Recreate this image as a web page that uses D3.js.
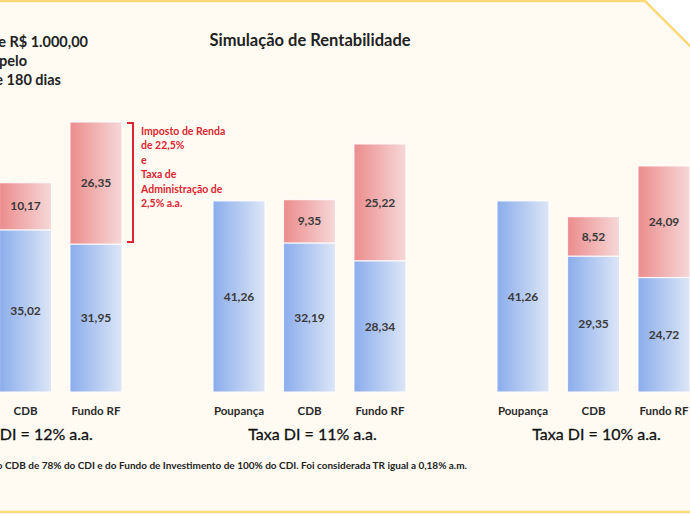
<!DOCTYPE html>
<html>
<head>
<meta charset="utf-8">
<script src="https://cdn.jsdelivr.net/npm/d3@7"></script>
<style>
  html, body { margin: 0; padding: 0; background: #ffffff; }
  svg { display: block; }
  text { font-family: Lato, "Open Sans", sans-serif; }
</style>
</head>
<body>
<svg id="chart" width="690" height="514"></svg>
<script>
// ---------- data ----------
const groups = ["Taxa DI = 12% a.a.", "Taxa DI = 11% a.a.", "Taxa DI = 10% a.a."];
const products = ["Poupança", "CDB", "Fundo RF"];
// net return (blue part)
const netReturn = [
  [41.26, 35.02, 31.95],
  [41.26, 32.19, 28.34],
  [41.26, 29.35, 24.72]
];
// income tax + admin fee (red part)
const deductions = [
  [0, 10.17, 26.35],
  [0, 9.35, 25.22],
  [0, 8.52, 24.09]
];
const titleText = "Simulação de Rentabilidade";
const introLines = ["Aplicação de R$ 1.000,00", "Rendimento pelo", "prazo de 180 dias"];
const noteLines = ["Imposto de Renda", "de 22,5%", "e", "Taxa de", "Administração de", "2,5% a.a."];
const footnote = "* Rentabilidade do CDB de 78% do CDI e do Fundo de Investimento de 100% do CDI. Foi considerada TR igual a 0,18% a.m.";

const fmt = v => v.toFixed(2).replace(".", ",");

// ---------- layout ----------
const svg = d3.select("#chart");
const baseY = 392;

// background panel with cut corner
svg.append("path")
  .attr("d", `M-10,1 L645,1 L700,56 L700,512 L-10,512 Z`)
  .attr("fill", "#fffbf3")
  .attr("stroke", "#fdd978")
  .attr("stroke-width", 2.5);

const defs = svg.append("defs");
function grad(id, c1, c2) {
  const g = defs.append("linearGradient").attr("id", id)
    .attr("x1", "0%").attr("x2", "100%").attr("y1", "0%").attr("y2", "0%");
  g.append("stop").attr("offset", "0%").attr("stop-color", c1);
  g.append("stop").attr("offset", "100%").attr("stop-color", c2);
}
grad("gBlue", "#8badec", "#dde6f6");
grad("gRed", "#ec8c8d", "#f6d8d8");

const x0 = d3.scaleBand().domain(groups).range([-71, -71 + 284 * 3]).paddingInner(0).paddingOuter(0);
const x1 = d3.scaleBand().domain(products).range([0, 193]).paddingInner(0.262).paddingOuter(0);
const y = d3.scaleLinear().domain([0, 60]).range([baseY, baseY - 60 * 4.631]);

const rows = [];
groups.forEach((g, gi) => products.forEach((p, pi) => {
  rows.push({ g, p, net: netReturn[gi][pi], ded: deductions[gi][pi] });
}));

const bars = svg.append("g");
const bx = d => x0(d.g) + x1(d.p);
bars.selectAll("rect.net").data(rows).join("rect")
  .attr("class", "net")
  .attr("x", bx)
  .attr("y", d => y(d.net))
  .attr("width", x1.bandwidth())
  .attr("height", d => y(0) - y(d.net))
  .attr("fill", "url(#gBlue)")
  .attr("stroke", "rgba(255,255,255,0.8)")
  .attr("stroke-width", 1.2);
bars.selectAll("rect.ded").data(rows.filter(d => d.ded > 0)).join("rect")
  .attr("class", "ded")
  .attr("x", bx)
  .attr("y", d => y(d.net + d.ded))
  .attr("width", x1.bandwidth())
  .attr("height", d => y(d.net) - y(d.net + d.ded))
  .attr("fill", "url(#gRed)")
  .attr("stroke", "rgba(255,255,255,0.8)")
  .attr("stroke-width", 1.2);

// value labels
const lbl = svg.append("g")
  .attr("font-size", 12).attr("font-weight", "bold").attr("fill", "#3a3a3a")
  .attr("text-anchor", "middle");
lbl.selectAll("text.n").data(rows).join("text")
  .attr("x", d => bx(d) + x1.bandwidth() / 2)
  .attr("y", d => (y(0) + y(d.net)) / 2)
  .attr("dy", "0.35em")
  .text(d => fmt(d.net));
lbl.selectAll("text.d").data(rows.filter(d => d.ded > 0)).join("text")
  .attr("x", d => bx(d) + x1.bandwidth() / 2)
  .attr("y", d => (y(d.net) + y(d.net + d.ded)) / 2)
  .attr("dy", "0.35em")
  .text(d => fmt(d.ded));

// category labels
svg.append("g").attr("font-size", 11.5).attr("font-weight", "bold").attr("fill", "#2a2a2a")
  .attr("text-anchor", "middle")
  .selectAll("text").data(rows).join("text")
  .attr("x", d => bx(d) + x1.bandwidth() / 2)
  .attr("y", 411).attr("dy", "0.35em")
  .text(d => d.p);

// group labels
svg.append("g").attr("font-size", 16).attr("fill", "#111")
  .attr("stroke", "#111").attr("stroke-width", 0.3)
  .attr("text-anchor", "middle")
  .selectAll("text").data(groups).join("text")
  .attr("x", g => x0(g) + x1("CDB") + x1.bandwidth() / 2 + 3)
  .attr("y", 434).attr("dy", "0.35em")
  .text(g => g);

// title
svg.append("text").attr("x", 310).attr("y", 40).attr("dy", "0.35em")
  .attr("text-anchor", "middle").attr("font-size", 16.5).attr("font-weight", "bold")
  .attr("fill", "#222").text(titleText);

// intro lines (right aligned to match visible portion)
const introEnds = [88, 27, 61];
const introY = [42, 61, 80];
svg.append("g").attr("font-size", 14.5).attr("font-weight", "bold").attr("fill", "#222")
  .attr("text-anchor", "end")
  .selectAll("text").data(introLines).join("text")
  .attr("x", (d, i) => introEnds[i]).attr("y", (d, i) => introY[i]).attr("dy", "0.35em")
  .text(d => d);

// annotation bracket
const red = "#dc2630";
const fundX = x0(groups[0]) + x1("Fundo RF") + x1.bandwidth();
const topY = y(netReturn[0][2] + deductions[0][2]);
const midY = y(netReturn[0][2]);
svg.append("path")
  .attr("d", `M${fundX + 5},${topY + 1} H${fundX + 11} V${midY - 2} H${fundX + 5}`)
  .attr("fill", "none").attr("stroke", red).attr("stroke-width", 2);
svg.append("g").attr("font-size", 10.5).attr("font-weight", "bold").attr("fill", red)
  .selectAll("text").data(noteLines).join("text")
  .attr("x", 141).attr("y", (d, i) => 131 + i * 14.5).attr("dy", "0.35em")
  .text(d => d);

// footnote
svg.append("text").attr("x", 467).attr("y", 465).attr("dy", "0.35em")
  .attr("text-anchor", "end").attr("font-size", 10).attr("font-weight", "bold")
  .attr("fill", "#222").text(footnote);
</script>
</body>
</html>
